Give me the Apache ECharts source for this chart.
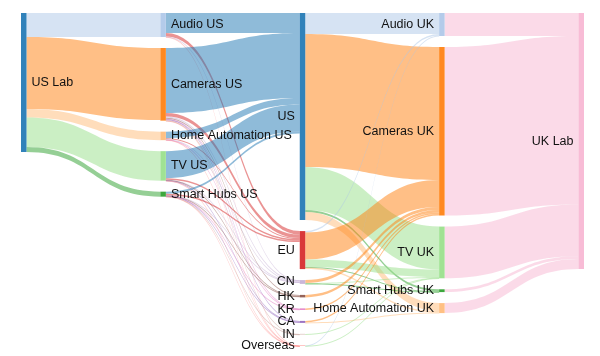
<!DOCTYPE html>
<html><head><meta charset="utf-8">
<script src="https://cdn.jsdelivr.net/npm/echarts@6/dist/echarts.min.js"></script>
<style>html,body{margin:0;padding:0;background:#fff}#c{width:600px;height:356px}</style>
</head><body><div id="c"></div>
<script>
// ---- columns of nodes ----
const sourceLab = ['US Lab'];
const usProducts = ['Audio US', 'Cameras US', 'Home Automation US', 'TV US', 'Smart Hubs US'];
const regions = ['US', 'EU', 'CN', 'HK', 'KR', 'CA', 'IN', 'Overseas'];
const ukProducts = ['Audio UK', 'Cameras UK', 'TV UK', 'Smart Hubs UK', 'Home Automation UK'];
const targetLab = ['UK Lab'];

// ---- flows: [source, target, value] ----
const labToProduct = [
  ['US Lab', 'Audio US', 24],
  ['US Lab', 'Cameras US', 72],
  ['US Lab', 'Home Automation US', 8.5],
  ['US Lab', 'TV US', 29.5],
  ['US Lab', 'Smart Hubs US', 5]
];
const productToRegion = [
  ['Audio US', 'US', 20], ['Audio US', 'EU', 3.5], ['Audio US', 'CN', 0.2], ['Audio US', 'Overseas', 0.1],
  ['Cameras US', 'US', 65], ['Cameras US', 'EU', 3.5], ['Cameras US', 'CN', 1.2], ['Cameras US', 'HK', 1],
  ['Cameras US', 'KR', 0.6], ['Cameras US', 'CA', 0.8], ['Cameras US', 'IN', 0.3], ['Cameras US', 'Overseas', 0.2],
  ['Home Automation US', 'US', 6.5], ['Home Automation US', 'EU', 1], ['Home Automation US', 'CN', 0.3],
  ['Home Automation US', 'KR', 0.3], ['Home Automation US', 'Overseas', 0.1],
  ['TV US', 'US', 27], ['TV US', 'EU', 1.5], ['TV US', 'CN', 0.3], ['TV US', 'HK', 0.3],
  ['TV US', 'CA', 0.3], ['TV US', 'Overseas', 0.1],
  ['Smart Hubs US', 'US', 2], ['Smart Hubs US', 'EU', 1.5], ['Smart Hubs US', 'CN', 0.3], ['Smart Hubs US', 'HK', 0.2],
  ['Smart Hubs US', 'KR', 0.2], ['Smart Hubs US', 'CA', 0.3], ['Smart Hubs US', 'IN', 0.2], ['Smart Hubs US', 'Overseas', 0.1]
];
const regionToUkProduct = [
  ['US', 'Audio UK', 21], ['US', 'Cameras UK', 133], ['US', 'TV UK', 43], ['US', 'Smart Hubs UK', 2], ['US', 'Home Automation UK', 8],
  ['EU', 'Audio UK', 1.5], ['EU', 'Cameras UK', 27], ['EU', 'TV UK', 7.5], ['EU', 'Smart Hubs UK', 0.5], ['EU', 'Home Automation UK', 1.5],
  ['CN', 'Cameras UK', 3], ['CN', 'TV UK', 0.5], ['CN', 'Smart Hubs UK', 0.3],
  ['HK', 'Cameras UK', 2.5],
  ['KR', 'Cameras UK', 1.5],
  ['CA', 'Cameras UK', 1.5], ['CA', 'Home Automation UK', 0.5],
  ['IN', 'TV UK', 0.4],
  ['Overseas', 'Audio UK', 0.3], ['Overseas', 'TV UK', 0.3]
];
const ukProductToLab = [
  ['Audio UK', 'UK Lab', 23],
  ['Cameras UK', 'UK Lab', 168.5],
  ['TV UK', 'UK Lab', 51.7],
  ['Smart Hubs UK', 'UK Lab', 2.8],
  ['Home Automation UK', 'UK Lab', 10]
];

// ---- styles (kept apart from data) ----
const nodeColors = {
  'US Lab': '#1f77b4', 'Audio US': '#aec7e8', 'Cameras US': '#ff7f0e', 'Home Automation US': '#ffbb78',
  'TV US': '#98df8a', 'Smart Hubs US': '#2ca02c',
  'US': '#1f77b4', 'EU': '#d62728', 'CN': '#c5b0d5', 'HK': '#8c564b', 'KR': '#e377c2', 'CA': '#9467bd',
  'IN': '#c49c94', 'Overseas': '#ff9896',
  'Audio UK': '#aec7e8', 'Cameras UK': '#ff7f0e', 'TV UK': '#98df8a', 'Smart Hubs UK': '#2ca02c',
  'Home Automation UK': '#ffbb78', 'UK Lab': '#f7b6d2'
};

const columns = [sourceLab, usProducts, regions, ukProducts, targetLab];
const nodes = [];
columns.forEach((col, ci) => {
  col.forEach(name => {
    nodes.push({
      name: name,
      itemStyle: { color: nodeColors[name] },
      label: { position: ci >= 2 ? 'left' : 'right' }
    });
  });
});
const links = [].concat(labToProduct, productToRegion, regionToUkProduct, ukProductToLab)
  .map(([s, t, v]) => ({ source: s, target: t, value: v }));

const chart = echarts.init(document.getElementById('c'), null, { renderer: 'canvas' });
chart.setOption({
  animation: false,
  backgroundColor: '#ffffff',
  series: [{
    type: 'sankey',
    left: 21, right: 16, top: 13, bottom: 10,
    nodeWidth: 5.5,
    nodeGap: 11,
    nodeAlign: 'justify',
    layoutIterations: 0,
    draggable: false,
    emphasis: { disabled: true },
    data: nodes,
    links: links,
    itemStyle: { borderWidth: 0, opacity: 0.92 },
    lineStyle: { color: 'target', opacity: 0.5, curveness: 0.5 },
    label: {
      color: '#111',
      fontSize: 12.5,
      fontFamily: 'Liberation Sans, Arial, Helvetica, sans-serif',
      distance: 5
    }
  }]
});
</script>
</body></html>
